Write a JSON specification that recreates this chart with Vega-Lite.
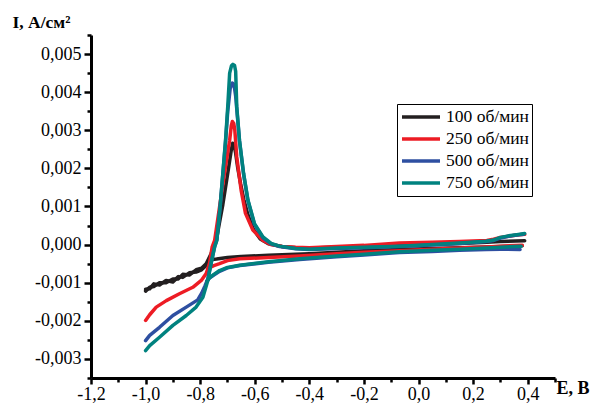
{
 "$schema": "https://vega.github.io/schema/vega-lite/v6.json",
 "width": 464, "height": 343,
 "autosize": {"type": "none"},
 "padding": {"left": 91, "top": 35, "right": 37, "bottom": 27},
 "background": "white",
 "config": {"view": {"stroke": null}, "font": "Liberation Serif"},
 "data": {"values": [
  {"s":"100 об/мин","b":"f","o":1,"E":-1.000,"I":-0.00122},
  {"s":"100 об/мин","b":"f","o":2,"E":-0.985,"I":-0.00112},
  {"s":"100 об/мин","b":"f","o":3,"E":-0.970,"I":-0.00110},
  {"s":"100 об/мин","b":"f","o":4,"E":-0.949,"I":-0.00100},
  {"s":"100 об/мин","b":"f","o":5,"E":-0.925,"I":-0.00100},
  {"s":"100 об/мин","b":"f","o":6,"E":-0.900,"I":-0.00090},
  {"s":"100 об/мин","b":"f","o":7,"E":-0.880,"I":-0.00090},
  {"s":"100 об/мин","b":"f","o":8,"E":-0.864,"I":-0.00078},
  {"s":"100 об/мин","b":"f","o":9,"E":-0.840,"I":-0.00080},
  {"s":"100 об/мин","b":"f","o":10,"E":-0.815,"I":-0.00066},
  {"s":"100 об/мин","b":"f","o":11,"E":-0.795,"I":-0.00062},
  {"s":"100 об/мин","b":"f","o":12,"E":-0.778,"I":-0.00050},
  {"s":"100 об/мин","b":"f","o":13,"E":-0.760,"I":-0.00024},
  {"s":"100 об/мин","b":"f","o":14,"E":-0.741,"I":0.00011},
  {"s":"100 об/мин","b":"f","o":15,"E":-0.730,"I":0.00055},
  {"s":"100 об/мин","b":"f","o":16,"E":-0.717,"I":0.00105},
  {"s":"100 об/мин","b":"f","o":17,"E":-0.699,"I":0.00187},
  {"s":"100 об/мин","b":"f","o":18,"E":-0.686,"I":0.00248},
  {"s":"100 об/мин","b":"f","o":19,"E":-0.681,"I":0.00266},
  {"s":"100 об/мин","b":"f","o":20,"E":-0.676,"I":0.00262},
  {"s":"100 об/мин","b":"f","o":21,"E":-0.670,"I":0.00240},
  {"s":"100 об/мин","b":"f","o":22,"E":-0.662,"I":0.00200},
  {"s":"100 об/мин","b":"f","o":23,"E":-0.652,"I":0.00160},
  {"s":"100 об/мин","b":"f","o":24,"E":-0.640,"I":0.00118},
  {"s":"100 об/мин","b":"f","o":25,"E":-0.625,"I":0.00078},
  {"s":"100 об/мин","b":"f","o":26,"E":-0.605,"I":0.00040},
  {"s":"100 об/мин","b":"f","o":27,"E":-0.580,"I":0.00015},
  {"s":"100 об/мин","b":"f","o":28,"E":-0.550,"I":0.00002},
  {"s":"100 об/мин","b":"f","o":29,"E":-0.500,"I":-0.00005},
  {"s":"100 об/мин","b":"f","o":30,"E":-0.450,"I":-0.00008},
  {"s":"100 об/мин","b":"f","o":31,"E":-0.400,"I":-0.00009},
  {"s":"100 об/мин","b":"f","o":32,"E":-0.300,"I":-0.00007},
  {"s":"100 об/мин","b":"f","o":33,"E":-0.200,"I":-0.00005},
  {"s":"100 об/мин","b":"f","o":34,"E":-0.070,"I":-0.00002},
  {"s":"100 об/мин","b":"f","o":35,"E":0.050,"I":0.00001},
  {"s":"100 об/мин","b":"f","o":36,"E":0.150,"I":0.00003},
  {"s":"100 об/мин","b":"f","o":37,"E":0.250,"I":0.00006},
  {"s":"100 об/мин","b":"f","o":38,"E":0.300,"I":0.00008},
  {"s":"100 об/мин","b":"f","o":39,"E":0.389,"I":0.00010},
  {"s":"100 об/мин","b":"r","o":1,"E":0.380,"I":-0.00003},
  {"s":"100 об/мин","b":"r","o":2,"E":0.300,"I":-0.00005},
  {"s":"100 об/мин","b":"r","o":3,"E":0.250,"I":-0.00006},
  {"s":"100 об/мин","b":"r","o":4,"E":0.150,"I":-0.00008},
  {"s":"100 об/мин","b":"r","o":5,"E":0.050,"I":-0.00010},
  {"s":"100 об/мин","b":"r","o":6,"E":-0.070,"I":-0.00013},
  {"s":"100 об/мин","b":"r","o":7,"E":-0.200,"I":-0.00016},
  {"s":"100 об/мин","b":"r","o":8,"E":-0.300,"I":-0.00020},
  {"s":"100 об/мин","b":"r","o":9,"E":-0.400,"I":-0.00024},
  {"s":"100 об/мин","b":"r","o":10,"E":-0.550,"I":-0.00028},
  {"s":"100 об/мин","b":"r","o":11,"E":-0.650,"I":-0.00031},
  {"s":"100 об/мин","b":"r","o":12,"E":-0.700,"I":-0.00034},
  {"s":"100 об/мин","b":"r","o":13,"E":-0.740,"I":-0.00038},
  {"s":"100 об/мин","b":"r","o":14,"E":-0.765,"I":-0.00040},
  {"s":"100 об/мин","b":"r","o":15,"E":-0.780,"I":-0.00056},
  {"s":"100 об/мин","b":"r","o":16,"E":-0.795,"I":-0.00066},
  {"s":"100 об/мин","b":"r","o":17,"E":-0.815,"I":-0.00072},
  {"s":"100 об/мин","b":"r","o":18,"E":-0.840,"I":-0.00074},
  {"s":"100 об/мин","b":"r","o":19,"E":-0.864,"I":-0.00086},
  {"s":"100 об/мин","b":"r","o":20,"E":-0.880,"I":-0.00084},
  {"s":"100 об/мин","b":"r","o":21,"E":-0.900,"I":-0.00098},
  {"s":"100 об/мин","b":"r","o":22,"E":-0.925,"I":-0.00094},
  {"s":"100 об/мин","b":"r","o":23,"E":-0.949,"I":-0.00106},
  {"s":"100 об/мин","b":"r","o":24,"E":-0.970,"I":-0.00103},
  {"s":"100 об/мин","b":"r","o":25,"E":-0.985,"I":-0.00116},
  {"s":"100 об/мин","b":"r","o":26,"E":-1.000,"I":-0.00117},
  {"s":"250 об/мин","b":"f","o":1,"E":-1.000,"I":-0.00199},
  {"s":"250 об/мин","b":"f","o":2,"E":-0.985,"I":-0.00184},
  {"s":"250 об/мин","b":"f","o":3,"E":-0.961,"I":-0.00164},
  {"s":"250 об/мин","b":"f","o":4,"E":-0.924,"I":-0.00147},
  {"s":"250 об/мин","b":"f","o":5,"E":-0.876,"I":-0.00129},
  {"s":"250 об/мин","b":"f","o":6,"E":-0.827,"I":-0.00112},
  {"s":"250 об/мин","b":"f","o":7,"E":-0.796,"I":-0.00094},
  {"s":"250 об/мин","b":"f","o":8,"E":-0.778,"I":-0.00076},
  {"s":"250 об/мин","b":"f","o":9,"E":-0.766,"I":-0.00050},
  {"s":"250 об/мин","b":"f","o":10,"E":-0.756,"I":-0.00006},
  {"s":"250 об/мин","b":"f","o":11,"E":-0.747,"I":0.00011},
  {"s":"250 об/мин","b":"f","o":12,"E":-0.729,"I":0.00099},
  {"s":"250 об/мин","b":"f","o":13,"E":-0.711,"I":0.00187},
  {"s":"250 об/мин","b":"f","o":14,"E":-0.692,"I":0.00274},
  {"s":"250 об/мин","b":"f","o":15,"E":-0.686,"I":0.00312},
  {"s":"250 об/мин","b":"f","o":16,"E":-0.682,"I":0.00323},
  {"s":"250 об/мин","b":"f","o":17,"E":-0.677,"I":0.00318},
  {"s":"250 об/мин","b":"f","o":18,"E":-0.673,"I":0.00300},
  {"s":"250 об/мин","b":"f","o":19,"E":-0.666,"I":0.00230},
  {"s":"250 об/мин","b":"f","o":20,"E":-0.650,"I":0.00143},
  {"s":"250 об/мин","b":"f","o":21,"E":-0.634,"I":0.00082},
  {"s":"250 об/мин","b":"f","o":22,"E":-0.607,"I":0.00038},
  {"s":"250 об/мин","b":"f","o":23,"E":-0.570,"I":0.00011},
  {"s":"250 об/мин","b":"f","o":24,"E":-0.540,"I":0.00000},
  {"s":"250 об/мин","b":"f","o":25,"E":-0.500,"I":-0.00005},
  {"s":"250 об/мин","b":"f","o":26,"E":-0.450,"I":-0.00007},
  {"s":"250 об/мин","b":"f","o":27,"E":-0.400,"I":-0.00008},
  {"s":"250 об/мин","b":"f","o":28,"E":-0.300,"I":-0.00005},
  {"s":"250 об/мин","b":"f","o":29,"E":-0.200,"I":-0.00002},
  {"s":"250 об/мин","b":"f","o":30,"E":-0.070,"I":0.00004},
  {"s":"250 об/мин","b":"f","o":31,"E":0.050,"I":0.00006},
  {"s":"250 об/мин","b":"f","o":32,"E":0.150,"I":0.00008},
  {"s":"250 об/мин","b":"f","o":33,"E":0.250,"I":0.00011},
  {"s":"250 об/мин","b":"f","o":34,"E":0.275,"I":0.00014},
  {"s":"250 об/мин","b":"f","o":35,"E":0.300,"I":0.00019},
  {"s":"250 об/мин","b":"f","o":36,"E":0.330,"I":0.00022},
  {"s":"250 об/мин","b":"f","o":37,"E":0.360,"I":0.00025},
  {"s":"250 об/мин","b":"f","o":38,"E":0.389,"I":0.00027},
  {"s":"250 об/мин","b":"r","o":1,"E":0.380,"I":-0.00002},
  {"s":"250 об/мин","b":"r","o":2,"E":0.300,"I":-0.00004},
  {"s":"250 об/мин","b":"r","o":3,"E":0.250,"I":-0.00006},
  {"s":"250 об/мин","b":"r","o":4,"E":0.150,"I":-0.00009},
  {"s":"250 об/мин","b":"r","o":5,"E":0.050,"I":-0.00012},
  {"s":"250 об/мин","b":"r","o":6,"E":-0.070,"I":-0.00016},
  {"s":"250 об/мин","b":"r","o":7,"E":-0.200,"I":-0.00020},
  {"s":"250 об/мин","b":"r","o":8,"E":-0.300,"I":-0.00024},
  {"s":"250 об/мин","b":"r","o":9,"E":-0.436,"I":-0.00030},
  {"s":"250 об/мин","b":"r","o":10,"E":-0.550,"I":-0.00034},
  {"s":"250 об/мин","b":"r","o":11,"E":-0.655,"I":-0.00037},
  {"s":"250 об/мин","b":"r","o":12,"E":-0.700,"I":-0.00042},
  {"s":"250 об/мин","b":"r","o":13,"E":-0.729,"I":-0.00050},
  {"s":"250 об/мин","b":"r","o":14,"E":-0.750,"I":-0.00055},
  {"s":"250 об/мин","b":"r","o":15,"E":-0.770,"I":-0.00062},
  {"s":"500 об/мин","b":"f","o":1,"E":-1.000,"I":-0.00252},
  {"s":"500 об/мин","b":"f","o":2,"E":-0.985,"I":-0.00238},
  {"s":"500 об/мин","b":"f","o":3,"E":-0.949,"I":-0.00217},
  {"s":"500 об/мин","b":"f","o":4,"E":-0.900,"I":-0.00186},
  {"s":"500 об/мин","b":"f","o":5,"E":-0.851,"I":-0.00164},
  {"s":"500 об/мин","b":"f","o":6,"E":-0.809,"I":-0.00145},
  {"s":"500 об/мин","b":"f","o":7,"E":-0.795,"I":-0.00128},
  {"s":"500 об/мин","b":"f","o":8,"E":-0.782,"I":-0.00108},
  {"s":"500 об/мин","b":"f","o":9,"E":-0.772,"I":-0.00090},
  {"s":"500 об/мин","b":"f","o":10,"E":-0.760,"I":-0.00048},
  {"s":"500 об/мин","b":"f","o":11,"E":-0.747,"I":-0.00005},
  {"s":"500 об/мин","b":"f","o":12,"E":-0.739,"I":0.00012},
  {"s":"500 об/мин","b":"f","o":13,"E":-0.727,"I":0.00098},
  {"s":"500 об/мин","b":"f","o":14,"E":-0.717,"I":0.00185},
  {"s":"500 об/мин","b":"f","o":15,"E":-0.707,"I":0.00270},
  {"s":"500 об/мин","b":"f","o":16,"E":-0.699,"I":0.00350},
  {"s":"500 об/мин","b":"f","o":17,"E":-0.690,"I":0.00410},
  {"s":"500 об/мин","b":"f","o":18,"E":-0.682,"I":0.00424},
  {"s":"500 об/мин","b":"f","o":19,"E":-0.676,"I":0.00420},
  {"s":"500 об/мин","b":"f","o":20,"E":-0.670,"I":0.00390},
  {"s":"500 об/мин","b":"f","o":21,"E":-0.664,"I":0.00340},
  {"s":"500 об/мин","b":"f","o":22,"E":-0.656,"I":0.00272},
  {"s":"500 об/мин","b":"f","o":23,"E":-0.641,"I":0.00185},
  {"s":"500 об/мин","b":"f","o":24,"E":-0.625,"I":0.00115},
  {"s":"500 об/мин","b":"f","o":25,"E":-0.601,"I":0.00053},
  {"s":"500 об/мин","b":"f","o":26,"E":-0.570,"I":0.00018},
  {"s":"500 об/мин","b":"f","o":27,"E":-0.540,"I":0.00002},
  {"s":"500 об/мин","b":"f","o":28,"E":-0.509,"I":-0.00005},
  {"s":"500 об/мин","b":"f","o":29,"E":-0.450,"I":-0.00011},
  {"s":"500 об/мин","b":"f","o":30,"E":-0.400,"I":-0.00013},
  {"s":"500 об/мин","b":"f","o":31,"E":-0.300,"I":-0.00010},
  {"s":"500 об/мин","b":"f","o":32,"E":-0.200,"I":-0.00008},
  {"s":"500 об/мин","b":"f","o":33,"E":-0.070,"I":-0.00005},
  {"s":"500 об/мин","b":"f","o":34,"E":0.050,"I":-0.00001},
  {"s":"500 об/мин","b":"f","o":35,"E":0.150,"I":0.00003},
  {"s":"500 об/мин","b":"f","o":36,"E":0.248,"I":0.00008},
  {"s":"500 об/мин","b":"f","o":37,"E":0.275,"I":0.00011},
  {"s":"500 об/мин","b":"f","o":38,"E":0.300,"I":0.00017},
  {"s":"500 об/мин","b":"f","o":39,"E":0.330,"I":0.00022},
  {"s":"500 об/мин","b":"f","o":40,"E":0.360,"I":0.00025},
  {"s":"500 об/мин","b":"f","o":41,"E":0.385,"I":0.00027},
  {"s":"500 об/мин","b":"r","o":1,"E":0.372,"I":-0.00013},
  {"s":"500 об/мин","b":"r","o":2,"E":0.300,"I":-0.00012},
  {"s":"500 об/мин","b":"r","o":3,"E":0.248,"I":-0.00013},
  {"s":"500 об/мин","b":"r","o":4,"E":0.150,"I":-0.00015},
  {"s":"500 об/мин","b":"r","o":5,"E":0.050,"I":-0.00018},
  {"s":"500 об/мин","b":"r","o":6,"E":-0.070,"I":-0.00021},
  {"s":"500 об/мин","b":"r","o":7,"E":-0.200,"I":-0.00027},
  {"s":"500 об/мин","b":"r","o":8,"E":-0.300,"I":-0.00032},
  {"s":"500 об/мин","b":"r","o":9,"E":-0.436,"I":-0.00039},
  {"s":"500 об/мин","b":"r","o":10,"E":-0.550,"I":-0.00046},
  {"s":"500 об/мин","b":"r","o":11,"E":-0.655,"I":-0.00055},
  {"s":"500 об/мин","b":"r","o":12,"E":-0.700,"I":-0.00061},
  {"s":"500 об/мин","b":"r","o":13,"E":-0.729,"I":-0.00070},
  {"s":"500 об/мин","b":"r","o":14,"E":-0.750,"I":-0.00080},
  {"s":"500 об/мин","b":"r","o":15,"E":-0.766,"I":-0.00088},
  {"s":"500 об/мин","b":"r","o":16,"E":-0.775,"I":-0.00096},
  {"s":"750 об/мин","b":"f","o":1,"E":-1.000,"I":-0.00278},
  {"s":"750 об/мин","b":"f","o":2,"E":-0.985,"I":-0.00265},
  {"s":"750 об/мин","b":"f","o":3,"E":-0.949,"I":-0.00243},
  {"s":"750 об/мин","b":"f","o":4,"E":-0.900,"I":-0.00212},
  {"s":"750 об/мин","b":"f","o":5,"E":-0.851,"I":-0.00186},
  {"s":"750 об/мин","b":"f","o":6,"E":-0.815,"I":-0.00164},
  {"s":"750 об/мин","b":"f","o":7,"E":-0.790,"I":-0.00138},
  {"s":"750 об/мин","b":"f","o":8,"E":-0.772,"I":-0.00094},
  {"s":"750 об/мин","b":"f","o":9,"E":-0.760,"I":-0.00050},
  {"s":"750 об/мин","b":"f","o":10,"E":-0.747,"I":-0.00006},
  {"s":"750 об/мин","b":"f","o":11,"E":-0.739,"I":0.00011},
  {"s":"750 об/мин","b":"f","o":12,"E":-0.727,"I":0.00099},
  {"s":"750 об/мин","b":"f","o":13,"E":-0.717,"I":0.00187},
  {"s":"750 об/мин","b":"f","o":14,"E":-0.707,"I":0.00274},
  {"s":"750 об/мин","b":"f","o":15,"E":-0.699,"I":0.00362},
  {"s":"750 об/мин","b":"f","o":16,"E":-0.692,"I":0.00450},
  {"s":"750 об/мин","b":"f","o":17,"E":-0.685,"I":0.00470},
  {"s":"750 об/мин","b":"f","o":18,"E":-0.680,"I":0.00473},
  {"s":"750 об/мин","b":"f","o":19,"E":-0.674,"I":0.00470},
  {"s":"750 об/мин","b":"f","o":20,"E":-0.670,"I":0.00455},
  {"s":"750 об/мин","b":"f","o":21,"E":-0.666,"I":0.00362},
  {"s":"750 об/мин","b":"f","o":22,"E":-0.656,"I":0.00274},
  {"s":"750 об/мин","b":"f","o":23,"E":-0.641,"I":0.00187},
  {"s":"750 об/мин","b":"f","o":24,"E":-0.625,"I":0.00117},
  {"s":"750 об/мин","b":"f","o":25,"E":-0.601,"I":0.00055},
  {"s":"750 об/мин","b":"f","o":26,"E":-0.570,"I":0.00020},
  {"s":"750 об/мин","b":"f","o":27,"E":-0.540,"I":0.00003},
  {"s":"750 об/мин","b":"f","o":28,"E":-0.509,"I":-0.00004},
  {"s":"750 об/мин","b":"f","o":29,"E":-0.450,"I":-0.00010},
  {"s":"750 об/мин","b":"f","o":30,"E":-0.400,"I":-0.00012},
  {"s":"750 об/мин","b":"f","o":31,"E":-0.300,"I":-0.00009},
  {"s":"750 об/мин","b":"f","o":32,"E":-0.200,"I":-0.00007},
  {"s":"750 об/мин","b":"f","o":33,"E":-0.070,"I":-0.00004},
  {"s":"750 об/мин","b":"f","o":34,"E":0.050,"I":0.00000},
  {"s":"750 об/мин","b":"f","o":35,"E":0.150,"I":0.00004},
  {"s":"750 об/мин","b":"f","o":36,"E":0.248,"I":0.00009},
  {"s":"750 об/мин","b":"f","o":37,"E":0.275,"I":0.00012},
  {"s":"750 об/мин","b":"f","o":38,"E":0.300,"I":0.00019},
  {"s":"750 об/мин","b":"f","o":39,"E":0.330,"I":0.00023},
  {"s":"750 об/мин","b":"f","o":40,"E":0.360,"I":0.00026},
  {"s":"750 об/мин","b":"f","o":41,"E":0.389,"I":0.00029},
  {"s":"750 об/мин","b":"r","o":1,"E":0.376,"I":-0.00004},
  {"s":"750 об/мин","b":"r","o":2,"E":0.300,"I":-0.00007},
  {"s":"750 об/мин","b":"r","o":3,"E":0.248,"I":-0.00009},
  {"s":"750 об/мин","b":"r","o":4,"E":0.150,"I":-0.00012},
  {"s":"750 об/мин","b":"r","o":5,"E":0.050,"I":-0.00015},
  {"s":"750 об/мин","b":"r","o":6,"E":-0.070,"I":-0.00019},
  {"s":"750 об/мин","b":"r","o":7,"E":-0.200,"I":-0.00025},
  {"s":"750 об/мин","b":"r","o":8,"E":-0.300,"I":-0.00030},
  {"s":"750 об/мин","b":"r","o":9,"E":-0.436,"I":-0.00037},
  {"s":"750 об/мин","b":"r","o":10,"E":-0.550,"I":-0.00045},
  {"s":"750 об/мин","b":"r","o":11,"E":-0.655,"I":-0.00054},
  {"s":"750 об/мин","b":"r","o":12,"E":-0.700,"I":-0.00060},
  {"s":"750 об/мин","b":"r","o":13,"E":-0.729,"I":-0.00068},
  {"s":"750 об/мин","b":"r","o":14,"E":-0.750,"I":-0.00078},
  {"s":"750 об/мин","b":"r","o":15,"E":-0.766,"I":-0.00087},
  {"s":"750 об/мин","b":"r","o":16,"E":-0.775,"I":-0.00096}
 ]},
 "mark": {"type": "line", "strokeWidth": 3.5, "strokeCap": "round", "strokeJoin": "round"},
 "encoding": {
  "x": {"field": "E", "type": "quantitative",
   "scale": {"domain": [-1.2, 0.5], "nice": false, "zero": false},
   "axis": {"title": "E, В", "values": [-1.2,-1.1,-1,-0.9,-0.8,-0.7,-0.6,-0.5,-0.4,-0.3,-0.2,-0.1,0,0.1,0.2,0.3,0.4,0.5],
    "labelExpr": "abs(round(datum.value*10)) % 2 == 0 ? replace(replace(format(datum.value, '.1f'), '.', ','), '−', '-') : ''",
    "tickSize": {"condition": {"test": "abs(round(datum.value*10)) % 2 == 0", "value": 6}, "value": 4},
    "tickWidth": 2.5, "tickColor": "black", "domainWidth": 3, "domainColor": "black", "grid": false,
    "labelFont": "Liberation Serif", "labelFontSize": 18, "labelColor": "black", "labelPadding": 1,
    "labelFlush": false, "labelOverlap": false, "labelBound": false,
    "titleFont": "Liberation Serif", "titleFontWeight": "bold", "titleFontSize": 18, "titleColor": "black",
    "titleX": 465, "titleY": 15, "titleAlign": "left", "titleBaseline": "alphabetic", "titleAngle": 0}},
  "y": {"field": "I", "type": "quantitative",
   "scale": {"domain": [-0.0035, 0.0055], "nice": false, "zero": false},
   "axis": {"title": "I, А/см²", "values": [-0.0035,-0.003,-0.0025,-0.002,-0.0015,-0.001,-0.0005,0,0.0005,0.001,0.0015,0.002,0.0025,0.003,0.0035,0.004,0.0045,0.005,0.0055],
    "labelExpr": "abs(round(datum.value*2000)) % 2 == 0 ? replace(replace(format(datum.value, '.3f'), '.', ','), '−', '-') : ''",
    "tickSize": {"condition": {"test": "abs(round(datum.value*2000)) % 2 == 0", "value": 7}, "value": 4},
    "tickWidth": 2.5, "tickColor": "black", "domainWidth": 3, "domainColor": "black", "grid": false,
    "labelFont": "Liberation Serif", "labelFontSize": 18, "labelColor": "black", "labelPadding": 3,
    "labelFlush": false, "labelOverlap": false, "labelBound": false,
    "titleFont": "Liberation Serif", "titleFontWeight": "bold", "titleFontSize": 17.5, "titleColor": "black",
    "titleX": -79, "titleY": -8, "titleAlign": "left", "titleBaseline": "alphabetic", "titleAngle": 0}},
  "color": {"field": "s", "type": "nominal",
   "scale": {"domain": ["100 об/мин","250 об/мин","500 об/мин","750 об/мин"], "range": ["#231f20","#ed1c24","#2e4fa1","#00827f"]},
   "legend": {"title": null, "orient": "none", "legendX": 306, "legendY": 69,
    "symbolType": "stroke", "symbolSize": 1444, "symbolStrokeWidth": 3.5, "clipHeight": 20, "rowPadding": 2,
    "labelFont": "Liberation Serif", "labelFontSize": 17.5, "labelColor": "black", "labelOffset": 4,
    "padding": 3, "strokeColor": "black"}},
  "detail": {"field": "b"},
  "order": {"field": "o", "type": "quantitative"}
 }
}
